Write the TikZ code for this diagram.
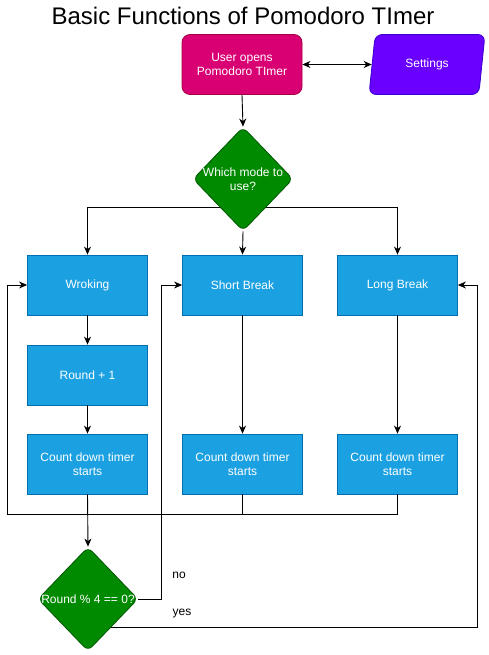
\documentclass[tikz,border=0pt]{standalone}
\usepackage{fontspec}
\setmainfont{Liberation Sans}
\usetikzlibrary{shapes.geometric,arrows.meta,backgrounds,calc}
\definecolor{magentaF}{HTML}{D80073}
\definecolor{magentaD}{HTML}{A50040}
\definecolor{purpleF}{HTML}{6A00FF}
\definecolor{purpleD}{HTML}{3700CC}
\definecolor{greenF}{HTML}{008A00}
\definecolor{greenD}{HTML}{005700}
\definecolor{blueF}{HTML}{1BA1E2}
\definecolor{blueD}{HTML}{006EAF}
\tikzset{
  txt/.style={font=\fontsize{12}{14}\selectfont, text=white, align=center},
  bluebox/.style={txt, rectangle, draw=blueD, fill=blueF, line width=0.8pt, minimum width=120pt, minimum height=60pt, inner sep=0pt},
  startbox/.style={txt, rectangle, rounded corners=8pt, draw=magentaD, fill=magentaF, line width=0.8pt, minimum width=120pt, minimum height=60pt, inner sep=0pt},
  para/.style={txt, trapezium, trapezium left angle=77, trapezium right angle=103, trapezium stretches=true, rounded corners=7pt, draw=purpleD, fill=purpleF, line width=0.8pt, minimum width=116pt, minimum height=60pt, inner sep=0pt},
  dia/.style={diamond, rounded corners=6pt, draw=greenD, fill=greenF, line width=0.8pt, minimum width=100pt, minimum height=104pt, inner sep=0pt},
  arr/.style={-{Stealth[length=8pt,width=7pt,inset=2.5pt]}, line width=0.9pt},
  ln/.style={line width=0.9pt},
  lbl/.style={font=\fontsize{12}{14}\selectfont, text=black, inner sep=0pt}
}
\begin{document}
\begin{tikzpicture}[x=1pt,y=-1pt]
\useasboundingbox (0,0) rectangle (488,655);
\node[font=\fontsize{24}{28}\selectfont] (title) at (243,16) {Basic Functions of Pomodoro TImer};
\node[startbox] (user) at (242,64.5) {User opens\\Pomodoro TImer};
\node[para] (settings) at (427,64.5) {Settings};
\node[dia, label={[txt]center:Which mode to\\use?}] (d1) at (243,179) {};
\node[bluebox] (work) at (87.5,285) {Wroking};
\node[bluebox] (short) at (242.5,285) {Short Break};
\node[bluebox] (long) at (397.5,285) {Long Break};
\node[bluebox] (round) at (87.5,375) {Round + 1};
\node[bluebox] (cd1) at (87.5,464) {Count down timer\\starts};
\node[bluebox] (cd2) at (242.5,464) {Count down timer\\starts};
\node[bluebox] (cd3) at (397.5,464) {Count down timer\\starts};
\node[dia, label={[txt]center:Round \% 4 == 0?}] (d2) at (88,599) {};
\node[lbl] (no) at (179,575) {no};
\node[lbl] (yes) at (182,614) {yes};
\coordinate (split) at (243,207);
\coordinate (lp) at (7.5,514);
\coordinate (nox) at (161.5,599);
\coordinate (yesx) at (477.5,627);
\begin{scope}[on background layer]
\draw[arr] (split) -| (work.north);
\draw[arr] (split) -| (long.north);
\draw[ln] ($(d2.center)+(0,28)$) -- (yesx);
\draw[arr] (yesx) |- (long.east);
\end{scope}
\draw[arr, {Stealth[length=8pt,width=7pt,inset=2.5pt]}-{Stealth[length=8pt,width=7pt,inset=2.5pt]}] (user.east) -- (settings.west);
\draw[arr] (user.south) -- (d1.north);
\draw[arr] (d1.south) -- (short.north);
\draw[arr] (work.south) -- (round.north);
\draw[arr] (round.south) -- (cd1.north);
\draw[arr] (short.south) -- (cd2.north);
\draw[arr] (long.south) -- (cd3.north);
\draw[arr] (cd1.south) -- (d2.north);
\draw[arr] (cd3.south) |- (lp) |- (work.west);
\draw[ln] (cd2.south) -- (cd2.south |- lp);
\draw[arr] (d2.east) -- (nox) |- (short.west);
\end{tikzpicture}
\end{document}
